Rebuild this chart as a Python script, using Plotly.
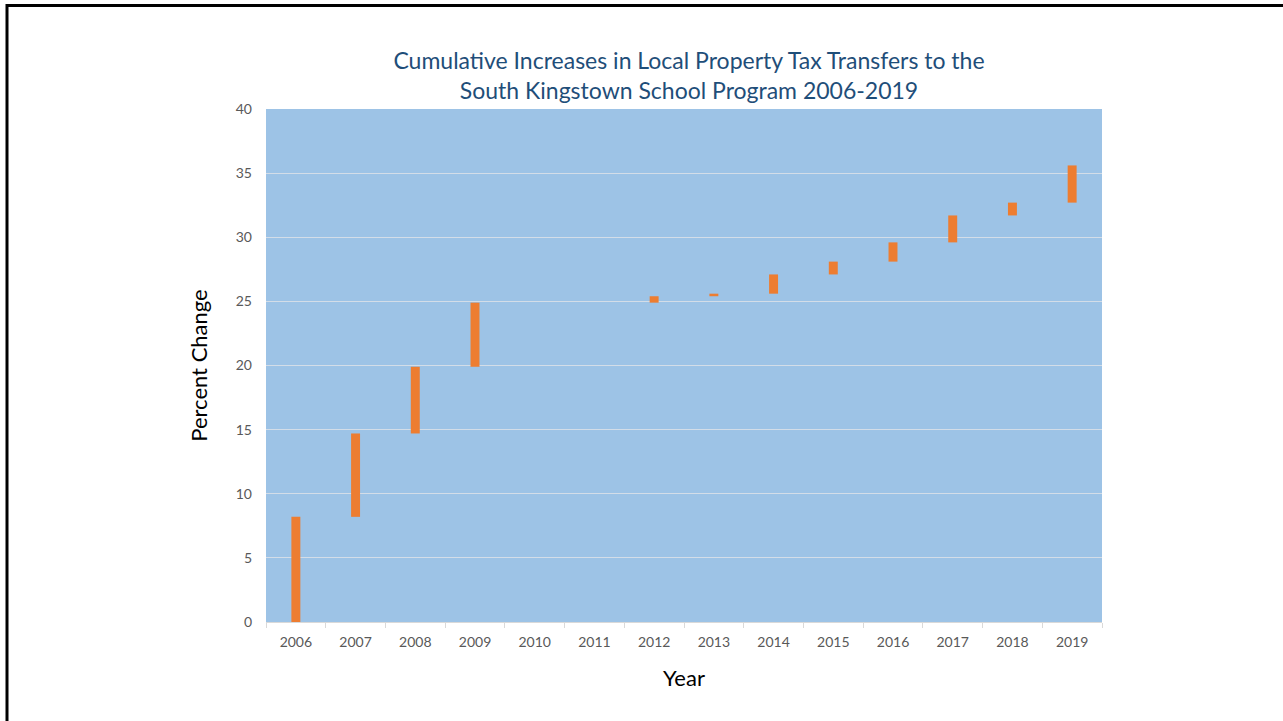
import numpy as np
import plotly.graph_objects as go

years = ["2006", "2007", "2008", "2009", "2010", "2011", "2012",
         "2013", "2014", "2015", "2016", "2017", "2018", "2019"]
# annual increase (percentage points) in cumulative transfers
annual_increase = [8.2, 6.5, 5.2, 5.0, 0.0, 0.0, 0.5, 0.2, 1.5, 1.0, 1.5, 2.1, 1.0, 2.9]
y_ticks = [0, 5, 10, 15, 20, 25, 30, 35, 40]

cumulative = np.cumsum(annual_increase)
bases = cumulative - np.array(annual_increase)

FONT = "Lato, 'Open Sans', sans-serif"

fig = go.Figure()
fig.add_trace(go.Bar(
    x=years, y=annual_increase, base=bases,
    width=0.15,
    marker=dict(color="#ED7D31", line=dict(width=0)),
    hovertemplate="%{x}: %{base:.1f} to %{y:.1f}<extra></extra>",
))

W, H = 1283, 721
L, T = 266, 109
pw, ph = 836, 513
R, B = W - L - pw, H - T - ph

fig.update_layout(
    width=W, height=H,
    margin=dict(l=L, r=R, t=T, b=B, pad=0),
    paper_bgcolor="white",
    plot_bgcolor="#9DC3E6",
    showlegend=False,
    font=dict(family=FONT, color="#595959"),
    title=dict(
        text="Cumulative Increases in Local Property Tax Transfers to the<br>South Kingstown School Program 2006-2019",
        x=689 / W, xanchor="center",
        y=1 - 69 / H, yanchor="top",
        font=dict(family=FONT, size=23, color="#1F4E79"),
    ),
    xaxis=dict(
        type="category",
        showgrid=False,
        showline=True, linecolor="#D9D9D9", linewidth=1,
        ticks="outside", tickson="boundaries", ticklen=5, tickcolor="#D9D9D9",
        tickfont=dict(size=14, color="#595959"),
        ticklabelstandoff=7,
        title=dict(text="Year", font=dict(size=22, color="black"), standoff=21),
    ),
    yaxis=dict(
        range=[0, 40],
        tickvals=y_ticks,
        showgrid=True, gridcolor="#D3DDE8", gridwidth=1,
        zeroline=False, showline=False, ticks="",
        tickfont=dict(size=14, color="#595959"),
        ticklabelstandoff=13,
        title=dict(text="Percent Change", font=dict(size=22, color="black"), standoff=22),
    ),
    shapes=[dict(
        type="rect", xref="paper", yref="paper",
        x0=(7 - L) / pw, x1=(W + 20 - L) / pw,
        y0=-(H + 20 - (T + ph)) / ph, y1=(T + ph - 5.5) / ph,
        line=dict(color="black", width=3), fillcolor="rgba(0,0,0,0)",
        layer="above",
    )],
)

fig.write_html(
    "out.html",
    config={"displayModeBar": False},
    post_script="document.body.style.margin='0px';document.body.style.overflow='hidden';",
)
